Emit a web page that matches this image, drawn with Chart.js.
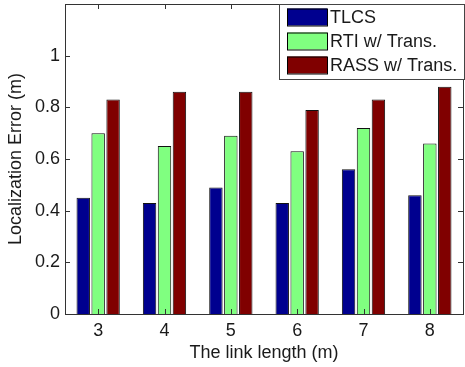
<!DOCTYPE html>
<html>
<head>
<meta charset="utf-8">
<script src="https://cdn.jsdelivr.net/npm/chart.js@4"></script>
<style>
  html, body { margin: 0; padding: 0; background: #fff; }
  #wrap { width: 465px; height: 367px; }
</style>
</head>
<body>
<div id="wrap"><canvas id="c" width="465" height="367"></canvas></div>
<script>
// podaci očitani sa slike
const linkLengths = ['3', '4', '5', '6', '7', '8'];
const tlcs = [0.45, 0.43, 0.49, 0.43, 0.56, 0.46];
const rtiTrans = [0.70, 0.65, 0.69, 0.63, 0.72, 0.66];
const rassTrans = [0.83, 0.86, 0.86, 0.79, 0.83, 0.88];
const yTicks = [0, 0.2, 0.4, 0.6, 0.8, 1];

const FONT = 'Liberation Sans, Arial, Helvetica, sans-serif';
const TEXT = '#1a1a1a';

// okvir, unutrašnji tikovi i legenda kao u MATLAB-u
const matlabFrame = {
    id: 'matlabFrame',
    afterDatasetsDraw(chart) {
        const ctx = chart.ctx;
        const a = chart.chartArea;
        const x = chart.scales.x;
        const y = chart.scales.y;
        ctx.save();
        ctx.strokeStyle = '#333';
        ctx.lineWidth = 1;
        ctx.beginPath();
        x.ticks.forEach((t, i) => {
            const px = Math.round(x.getPixelForTick(i)) + 0.5;
            ctx.moveTo(px, a.top); ctx.lineTo(px, a.top + 5);
            ctx.moveTo(px, a.bottom); ctx.lineTo(px, a.bottom - 5);
        });
        yTicks.forEach(v => {
            const py = Math.round(y.getPixelForValue(v)) + 0.5;
            ctx.moveTo(a.left, py); ctx.lineTo(a.left + 5, py);
            ctx.moveTo(a.right, py); ctx.lineTo(a.right - 5, py);
        });
        ctx.stroke();
        ctx.strokeRect(Math.round(a.left) + 0.5, Math.round(a.top) + 0.5,
            Math.round(a.right - a.left), Math.round(a.bottom - a.top));

        // legenda
        const bx = 279.5, by = 4.5, bw = 185, bh = 75;
        ctx.fillStyle = '#fff';
        ctx.fillRect(bx, by, bw, bh);
        ctx.strokeStyle = '#444';
        ctx.strokeRect(bx, by, bw, bh);
        ctx.font = '18px ' + FONT;
        ctx.textBaseline = 'middle';
        chart.data.datasets.forEach((ds, i) => {
            const cy = 17 + i * 24;
            ctx.fillStyle = ds.backgroundColor;
            ctx.fillRect(287, cy - 8.5, 40, 17);
            ctx.strokeStyle = '#000';
            ctx.strokeRect(287.5, cy - 8, 40, 17);
            ctx.fillStyle = TEXT;
            ctx.fillText(ds.label, 330, cy + 1);
        });
        ctx.restore();
    }
};

new Chart(document.getElementById('c'), {
    type: 'bar',
    data: {
        labels: linkLengths,
        datasets: [
            { label: 'TLCS', data: tlcs, backgroundColor: '#00008f' },
            { label: 'RTI w/ Trans.', data: rtiTrans, backgroundColor: '#80ff80' },
            { label: 'RASS w/ Trans.', data: rassTrans, backgroundColor: '#800000' }
        ].map(d => Object.assign(d, {
            borderColor: '#111',
            borderWidth: 1,
            categoryPercentage: 0.675,
            barPercentage: 0.9
        }))
    },
    options: {
        responsive: false,
        animation: false,
        devicePixelRatio: 1,
        layout: { padding: { top: 4, right: 2, left: 0, bottom: 0 } },
        plugins: {
            legend: { display: false },
            tooltip: { enabled: false }
        },
        scales: {
            x: {
                grid: { display: false, drawTicks: false },
                border: { display: false },
                ticks: {
                    color: TEXT,
                    font: { family: FONT, size: 18 },
                    padding: 6
                },
                title: {
                    display: true,
                    text: 'The link length (m)',
                    color: TEXT,
                    font: { family: FONT, size: 18 },
                    padding: { top: 0, bottom: 3 }
                },
                afterFit(scale) { scale.height = 53; }
            },
            y: {
                min: 0,
                max: 1.2,
                grid: { display: false, drawTicks: false },
                border: { display: false },
                afterBuildTicks(scale) {
                    scale.ticks = yTicks.map(v => ({ value: v }));
                },
                ticks: {
                    color: TEXT,
                    font: { family: FONT, size: 18 },
                    padding: 5,
                    callback: v => String(v)
                },
                title: {
                    display: true,
                    text: 'Localization Error (m)',
                    color: TEXT,
                    font: { family: FONT, size: 18 },
                    padding: { top: 5, bottom: 0 }
                },
                afterFit(scale) {
                    scale.width = 65;
                    scale.paddingTop = 0;
                    scale.paddingBottom = 0;
                }
            }
        }
    },
    plugins: [matlabFrame]
});
</script>
</body>
</html>
